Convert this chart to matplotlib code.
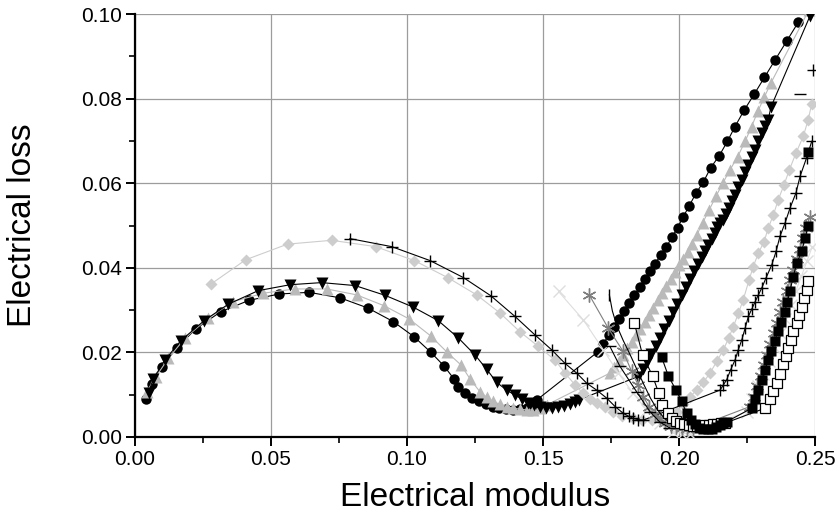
import matplotlib
matplotlib.use("Agg")
import matplotlib.pyplot as plt
from matplotlib.ticker import MultipleLocator, FormatStrFormatter

plt.rcParams["font.family"] = ["Liberation Sans", "DejaVu Sans"]

BLACK, GREY, LIGHT, MID, PALE = "#000000", "#bababa", "#cdcdcd", "#7f7f7f", "#dedede"

# black filled circles
circ_x = [0.0040, 0.0061, 0.0098, 0.0154, 0.0224, 0.0315, 0.0419, 0.0529, 0.0640, 0.0754,
          0.0856, 0.0949, 0.1026, 0.1088, 0.1136, 0.1173, 0.1188, 0.1215, 0.1240, 0.1265,
          0.1290, 0.1315, 0.1340, 0.1365, 0.1390, 0.1415, 0.1440, 0.1462, 0.1478,
          0.1703, 0.1722, 0.1741, 0.1760, 0.1779, 0.1798, 0.1817, 0.1836, 0.1855, 0.1874,
          0.1893, 0.1912, 0.1933, 0.1954, 0.1975, 0.1995, 0.2016, 0.2038, 0.2063, 0.2089,
          0.2116, 0.2148, 0.2178, 0.2206, 0.2239, 0.2277, 0.2314, 0.2353, 0.2396, 0.2439]
circ_y = [0.0090, 0.0125, 0.0166, 0.0211, 0.0256, 0.0296, 0.0323, 0.0338, 0.0342, 0.0329,
          0.0305, 0.0273, 0.0237, 0.0200, 0.0168, 0.0137, 0.0119, 0.0104, 0.0093, 0.0084,
          0.0077, 0.0072, 0.0068, 0.0066, 0.0065, 0.0066, 0.0069, 0.0075, 0.0088,
          0.0202, 0.0221, 0.0240, 0.0259, 0.0278, 0.0297, 0.0316, 0.0335, 0.0354, 0.0373,
          0.0392, 0.0410, 0.0430, 0.0450, 0.0473, 0.0495, 0.0521, 0.0547, 0.0577, 0.0602,
          0.0636, 0.0665, 0.0699, 0.0734, 0.0772, 0.0811, 0.0850, 0.0891, 0.0936, 0.0981]

# grey up triangles
tri_x = [0.0043, 0.0077, 0.0123, 0.0184, 0.0270, 0.0361, 0.0472, 0.0588, 0.0705, 0.0815,
         0.0917, 0.1008, 0.1087, 0.1148, 0.1199, 0.1232, 0.1268, 0.1293, 0.1317, 0.1342,
         0.1366, 0.1390, 0.1415, 0.1440, 0.1464, 0.1490, 0.1514,
         0.1746, 0.1762, 0.1778, 0.1794, 0.1810, 0.1826, 0.1842, 0.1858, 0.1874, 0.1890,
         0.1906, 0.1922, 0.1938, 0.1954, 0.1970, 0.1985, 0.2000, 0.2016, 0.2032, 0.2047,
         0.2065, 0.2087, 0.2111, 0.2136, 0.2161, 0.2188, 0.2216, 0.2243, 0.2267, 0.2290,
         0.2314, 0.2338, 0.2478]
tri_y = [0.0107, 0.0143, 0.0186, 0.0234, 0.0281, 0.0320, 0.0340, 0.0350, 0.0350, 0.0336,
         0.0310, 0.0279, 0.0239, 0.0200, 0.0170, 0.0137, 0.0107, 0.0094, 0.0084, 0.0077,
         0.0072, 0.0068, 0.0066, 0.0064, 0.0064, 0.0068, 0.0076,
         0.0151, 0.0165, 0.0180, 0.0195, 0.0210, 0.0225, 0.0240, 0.0256, 0.0272, 0.0289,
         0.0306, 0.0323, 0.0340, 0.0357, 0.0374, 0.0390, 0.0406, 0.0420, 0.0438, 0.0456,
         0.0477, 0.0506, 0.0537, 0.0569, 0.0600, 0.0632, 0.0663, 0.0699, 0.0734, 0.0770,
         0.0804, 0.0837, 0.1010]

# black down triangles
dtri_x = [0.0050, 0.0067, 0.0110, 0.0169, 0.0254, 0.0343, 0.0453, 0.0570, 0.0686, 0.0809,
          0.0919, 0.1023, 0.1115, 0.1189, 0.1250, 0.1293, 0.1330, 0.1366, 0.1397, 0.1422,
          0.1445, 0.1468, 0.1490, 0.1512, 0.1534, 0.1556, 0.1578, 0.1600, 0.1618, 0.1632,
          0.1850, 0.1866, 0.1882, 0.1898, 0.1914, 0.1930, 0.1946, 0.1962, 0.1978, 0.1994,
          0.2010, 0.2025, 0.2040, 0.2055, 0.2071, 0.2084, 0.2096, 0.2108, 0.2120, 0.2131,
          0.2141, 0.2152, 0.2163, 0.2174, 0.2185, 0.2196, 0.2206, 0.2218, 0.2230, 0.2243,
          0.2255, 0.2268, 0.2280, 0.2292, 0.2304, 0.2316, 0.2328, 0.2338, 0.2482]
dtri_y = [0.0105, 0.0137, 0.0182, 0.0228, 0.0275, 0.0314, 0.0346, 0.0360, 0.0365, 0.0358,
          0.0335, 0.0307, 0.0275, 0.0234, 0.0194, 0.0160, 0.0129, 0.0111, 0.0099, 0.0090,
          0.0081, 0.0075, 0.0071, 0.0069, 0.0069, 0.0071, 0.0074, 0.0078, 0.0083, 0.0088,
          0.0143, 0.0160, 0.0178, 0.0197, 0.0216, 0.0235, 0.0255, 0.0275, 0.0295, 0.0315,
          0.0335, 0.0354, 0.0373, 0.0392, 0.0410, 0.0426, 0.0440, 0.0454, 0.0468, 0.0482,
          0.0497, 0.0506, 0.0514, 0.0527, 0.0541, 0.0558, 0.0573, 0.0590, 0.0608, 0.0626,
          0.0644, 0.0662, 0.0679, 0.0699, 0.0719, 0.0735, 0.0750, 0.0780, 0.0996]

# light grey diamonds
dia_x = [0.0278, 0.0407, 0.0561, 0.0723, 0.0885, 0.1027, 0.1152, 0.1256, 0.1342, 0.1415,
         0.1483, 0.1544, 0.1581, 0.1618, 0.1647, 0.1672, 0.1697, 0.1727, 0.1758, 0.1790,
         0.1830, 0.1865, 0.1900, 0.1935, 0.1965, 0.1992, 0.2016, 0.2040, 0.2065, 0.2090,
         0.2114, 0.2140, 0.2163, 0.2182, 0.2200, 0.2218, 0.2236, 0.2258, 0.2273, 0.2292,
         0.2313, 0.2328, 0.2347, 0.2365, 0.2386, 0.2406, 0.2430, 0.2457, 0.2475, 0.2488]
dia_y = [0.0361, 0.0419, 0.0456, 0.0465, 0.0450, 0.0417, 0.0376, 0.0336, 0.0293, 0.0249,
         0.0214, 0.0182, 0.0151, 0.0123, 0.0103, 0.0090, 0.0080, 0.0070, 0.0060, 0.0050,
         0.0045, 0.0040, 0.0040, 0.0040, 0.0047, 0.0060, 0.0078, 0.0095, 0.0111, 0.0130,
         0.0151, 0.0180, 0.0206, 0.0233, 0.0261, 0.0292, 0.0324, 0.0372, 0.0403, 0.0435,
         0.0462, 0.0494, 0.0525, 0.0561, 0.0596, 0.0632, 0.0671, 0.0711, 0.0750, 0.0788]

# black plus
plus_x = [0.0790, 0.0944, 0.1085, 0.1207, 0.1308, 0.1397, 0.1471, 0.1532, 0.1581, 0.1624,
          0.1661, 0.1697, 0.1734, 0.1765, 0.1795, 0.1815, 0.1832, 0.1850, 0.1869,
          0.2151, 0.2163, 0.2175, 0.2190, 0.2206, 0.2218, 0.2231, 0.2243, 0.2255, 0.2268,
          0.2280, 0.2292, 0.2304, 0.2320, 0.2341, 0.2357, 0.2371, 0.2390, 0.2408, 0.2430,
          0.2445, 0.2469, 0.2488]
plus_y = [0.0469, 0.0450, 0.0417, 0.0377, 0.0334, 0.0285, 0.0241, 0.0206, 0.0174, 0.0151,
          0.0127, 0.0111, 0.0092, 0.0072, 0.0056, 0.0049, 0.0044, 0.0041, 0.0040,
          0.0111, 0.0123, 0.0135, 0.0159, 0.0182, 0.0206, 0.0230, 0.0257, 0.0285, 0.0303,
          0.0320, 0.0336, 0.0352, 0.0376, 0.0407, 0.0439, 0.0474, 0.0506, 0.0541, 0.0577,
          0.0616, 0.0660, 0.0699]
plus_out_x = [0.2491]
plus_out_y = [0.0867]

# open squares
osq_x = [0.1836, 0.1866, 0.1903, 0.1926, 0.1936, 0.1961, 0.1975, 0.1990, 0.2005, 0.2020,
         0.2035, 0.2050, 0.2065, 0.2080, 0.2095, 0.2110, 0.2125, 0.2140, 0.2155, 0.2170,
         0.2316, 0.2335, 0.2347, 0.2359, 0.2371, 0.2384, 0.2393, 0.2402, 0.2410, 0.2420,
         0.2433, 0.2442, 0.2451, 0.2460, 0.2469, 0.2475]
osq_y = [0.0269, 0.0194, 0.0144, 0.0103, 0.0076, 0.0056, 0.0045, 0.0038, 0.0033, 0.0030,
         0.0028, 0.0027, 0.0027, 0.0027, 0.0028, 0.0029, 0.0030, 0.0031, 0.0032, 0.0033,
         0.0068, 0.0089, 0.0109, 0.0128, 0.0148, 0.0172, 0.0191, 0.0210, 0.0230, 0.0250,
         0.0269, 0.0289, 0.0308, 0.0328, 0.0348, 0.0368]

# black filled squares
sq_x = [0.1936, 0.1961, 0.1989, 0.2010, 0.2028, 0.2045, 0.2060, 0.2075, 0.2090, 0.2105,
        0.2120, 0.2135, 0.2150, 0.2163, 0.2175,
        0.2267, 0.2280, 0.2292, 0.2304, 0.2316, 0.2328, 0.2340, 0.2352, 0.2364, 0.2376,
        0.2388, 0.2398, 0.2408, 0.2420, 0.2433, 0.2451, 0.2463, 0.2475]
sq_y = [0.0189, 0.0144, 0.0111, 0.0084, 0.0056, 0.0040, 0.0030, 0.0022, 0.0018, 0.0018,
        0.0020, 0.0024, 0.0028, 0.0032, 0.0036,
        0.0068, 0.0090, 0.0112, 0.0135, 0.0158, 0.0181, 0.0204, 0.0227, 0.0250, 0.0272,
        0.0295, 0.0318, 0.0345, 0.0379, 0.0411, 0.0439, 0.0470, 0.0499]
sq_out_x = [0.2475]
sq_out_y = [0.0674]

# grey asterisks
ast_x = [0.1670, 0.1740, 0.1793, 0.1826, 0.1850, 0.1869, 0.1890, 0.1910, 0.1930, 0.1950,
         0.1970, 0.1990, 0.2010, 0.2030, 0.2050,
         0.2261, 0.2275, 0.2288, 0.2300, 0.2312, 0.2324, 0.2336, 0.2348, 0.2360, 0.2372,
         0.2384, 0.2396, 0.2408, 0.2420, 0.2432, 0.2444, 0.2456, 0.2468, 0.2480]
ast_y = [0.0336, 0.0257, 0.0204, 0.0155, 0.0123, 0.0095, 0.0072, 0.0055, 0.0042, 0.0033,
         0.0027, 0.0023, 0.0021, 0.0020, 0.0020,
         0.0072, 0.0095, 0.0120, 0.0145, 0.0170, 0.0195, 0.0220, 0.0245, 0.0270, 0.0295,
         0.0320, 0.0345, 0.0370, 0.0395, 0.0420, 0.0445, 0.0470, 0.0495, 0.0520]

# pale crosses
crs_x = [0.1557, 0.1648, 0.1722, 0.1777, 0.1832, 0.1881, 0.1930, 0.1979, 0.2010, 0.2040,
         0.2250, 0.2270, 0.2290, 0.2310, 0.2330, 0.2350, 0.2370, 0.2390, 0.2410, 0.2430,
         0.2450, 0.2470, 0.2490]
crs_y = [0.0344, 0.0277, 0.0206, 0.0151, 0.0103, 0.0064, 0.0032, 0.0013, 0.0008, 0.0008,
         0.0060, 0.0090, 0.0120, 0.0150, 0.0180, 0.0212, 0.0245, 0.0278, 0.0312, 0.0346,
         0.0380, 0.0415, 0.0450]

# black line starting with a vertical tick
vl_x = [0.1744, 0.1755, 0.1772, 0.1795, 0.1820, 0.1845, 0.1870, 0.1895, 0.1920, 0.1945,
        0.1970, 0.1995, 0.2020]
vl_y = [0.0336, 0.0298, 0.0262, 0.0228, 0.0195, 0.0160, 0.0125, 0.0092, 0.0065, 0.0045,
        0.0032, 0.0025, 0.0022]

# black dashes
dash_x = [0.1746, 0.1783, 0.1844, 0.1893, 0.1930, 0.1965]
dash_y = [0.0214, 0.0167, 0.0107, 0.0060, 0.0035, 0.0022]
dash_out_x = [0.2445]
dash_out_y = [0.0811]

fig = plt.figure(figsize=(8.36, 5.19), dpi=100)
ax = fig.add_axes([135 / 836, 82 / 519, 680 / 836, 423 / 519])

lw = 0.8
ax.plot(circ_x, circ_y, "-o", color=BLACK, lw=lw, ms=7.5, mec="none", zorder=3)
ax.plot(tri_x, tri_y, "-^", color=GREY, lw=lw, ms=8.5, mec="none", zorder=3)
ax.plot(dtri_x, dtri_y, "-v", color=BLACK, lw=lw, ms=8.5, mec="none", zorder=3)
ax.plot(dia_x, dia_y, "-D", color=LIGHT, lw=lw, ms=6.5, mec="none", zorder=3)
ax.plot(plus_x, plus_y, "-+", color=BLACK, lw=lw, ms=9, mew=1.0, zorder=3)
ax.plot(plus_out_x, plus_out_y, "+", color=BLACK, ms=9, mew=1.0, zorder=3)
ax.plot(crs_x, crs_y, "-x", color=PALE, lw=lw, ms=8, mew=1.0, zorder=3)
ax.plot(ast_x, ast_y, "-", marker=(6, 2, 0), color=MID, lw=lw, ms=10, mew=1.0, zorder=3)
ax.plot(vl_x, vl_y, "-|", color=BLACK, lw=lw, ms=8, mew=1.0, markevery=[0], zorder=3)
ax.plot(dash_x, dash_y, "-_", color=BLACK, lw=lw, ms=8, mew=1.0, zorder=3)
ax.plot(dash_out_x, dash_out_y, "_", color=BLACK, ms=8, mew=1.0, zorder=3)
ax.plot(osq_x, osq_y, "-s", color=BLACK, lw=lw, ms=7, mfc="white", mec=BLACK, mew=0.9, zorder=3)
ax.plot(sq_x, sq_y, "-s", color=BLACK, lw=lw, ms=7, mec="none", zorder=3)
ax.plot(sq_out_x, sq_out_y, "s", color=BLACK, ms=7, mec="none", zorder=3)

ax.set_xlim(0, 0.25)
ax.set_ylim(0, 0.10)
ax.xaxis.set_major_locator(MultipleLocator(0.05))
ax.xaxis.set_minor_locator(MultipleLocator(0.025))
ax.yaxis.set_major_locator(MultipleLocator(0.02))
ax.yaxis.set_minor_locator(MultipleLocator(0.01))
ax.xaxis.set_major_formatter(FormatStrFormatter("%.2f"))
ax.yaxis.set_major_formatter(FormatStrFormatter("%.2f"))

for side in ("top", "right"):
    ax.spines[side].set_visible(False)
for side in ("left", "bottom"):
    ax.spines[side].set_linewidth(1.6)

ax.tick_params(which="major", direction="out", length=6.5, width=1.4, labelsize=15, pad=3)
ax.tick_params(which="minor", direction="out", length=4, width=1.2)

ax.grid(True, which="major", color="#9c9c9c", lw=0.9, zorder=0)
ax.set_axisbelow(True)
ax.xaxis.get_gridlines()[0].set_visible(False)
ax.xaxis.get_gridlines()[-1].set_visible(False)
ax.yaxis.get_gridlines()[0].set_visible(False)
ax.yaxis.get_gridlines()[-1].set_visible(False)

ax.set_xlabel("Electrical modulus", fontsize=24)
ax.set_ylabel("Electrical loss", fontsize=24)
ax.xaxis.set_label_coords(0.5, -0.106)
ax.yaxis.set_label_coords(-0.142, 0.5)

fig.savefig("out.png", dpi=100)
